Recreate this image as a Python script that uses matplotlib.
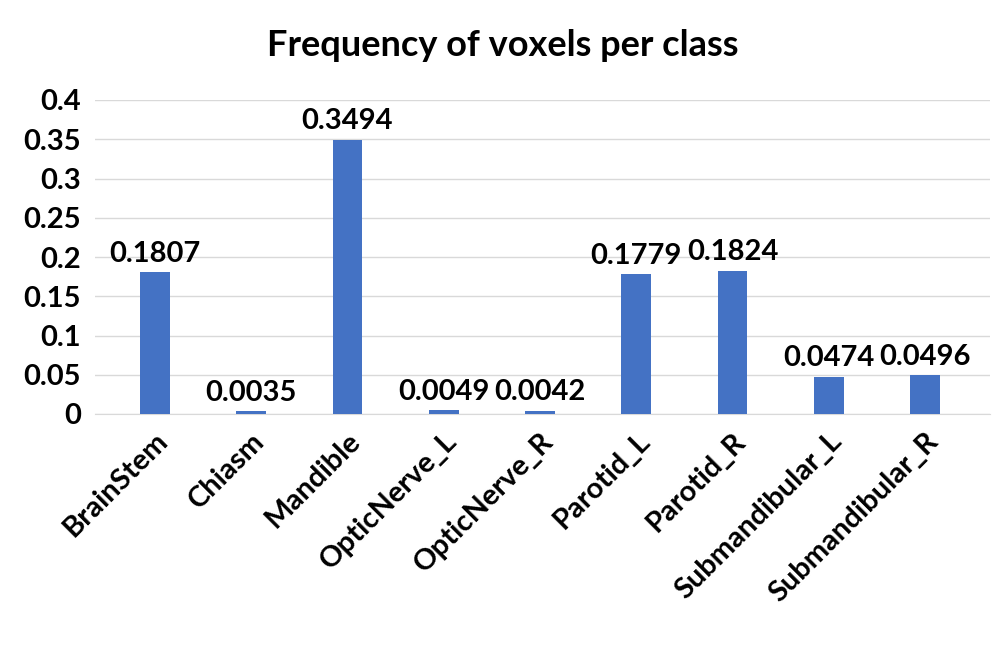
import numpy as np
import matplotlib.pyplot as plt

# classes and voxel frequency
classes = ['BrainStem', 'Chiasm', 'Mandible', 'OpticNerve_L', 'OpticNerve_R',
           'Parotid_L', 'Parotid_R', 'Submandibular_L', 'Submandibular_R']
freq = [0.1807, 0.0035, 0.3494, 0.0049, 0.0042, 0.1779, 0.1824, 0.0474, 0.0496]
yticks = [0, 0.05, 0.1, 0.15, 0.2, 0.25, 0.3, 0.35, 0.4]
ytick_labels = ['0', '0.05', '0.1', '0.15', '0.2', '0.25', '0.3', '0.35', '0.4']

plt.rcParams['font.family'] = ['Lato', 'DejaVu Sans']
plt.rcParams['font.weight'] = 'bold'

fig = plt.figure(figsize=(10.06, 6.5), dpi=100)
ax = fig.add_axes([95/1006, 1 - 414/650, (990-95)/1006, (414-100)/650])

x = np.arange(len(classes))
ax.bar(x, freq, width=0.31, color='#4472C4', zorder=3)
for xi, v in zip(x, freq):
    ax.text(xi, v + 0.007, f'{v:.4f}', ha='center', va='bottom',
            fontsize=21, fontweight='bold', color='black')

ax.set_xlim(-0.623, 8.675)
ax.set_ylim(0, 0.4)
ax.set_yticks(yticks)
ax.set_yticklabels(ytick_labels, fontsize=21, fontweight='bold')
ax.set_xticks(x)
ax.set_xticklabels(classes, rotation=45, ha='right', rotation_mode='anchor',
                   fontsize=21, fontweight='bold')
ax.tick_params(axis='both', length=0, pad=10)
ax.yaxis.grid(True, color='#D9D9D9', linewidth=1, zorder=0)
for s in ['top', 'right', 'left']:
    ax.spines[s].set_visible(False)
ax.spines['bottom'].set_color('#D9D9D9')

fig.text(503/1006, 1 - 45/650, 'Frequency of voxels per class', ha='center',
         va='center', fontsize=26, fontweight='bold')

fig.savefig('out.png', dpi=100)
